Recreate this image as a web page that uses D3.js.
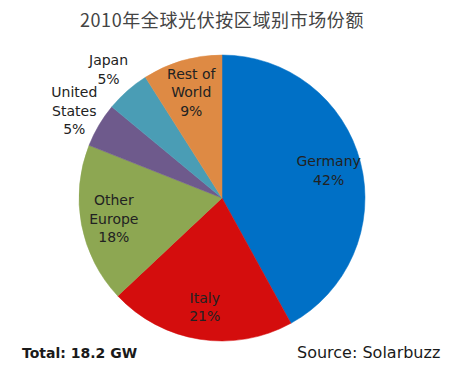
<!DOCTYPE html>
<html>
<head>
<meta charset="utf-8">
<script src="https://cdn.jsdelivr.net/npm/d3@7"></script>
<style>
  body { margin: 0; background: #fff; }
  text { font-family: "DejaVu Sans", Verdana, sans-serif; }
</style>
</head>
<body>
<svg id="chart"></svg>
<script>
// market share by region, 2010
var regions = ["Germany", "Italy", "Other Europe", "United States", "Japan", "Rest of World"];
var shares = [42, 21, 18, 5, 5, 9];
var labelLines = [["Germany"], ["Italy"], ["Other", "Europe"], ["United", "States"], ["Japan"], ["Rest of", "World"]];
var sliceColors = ["#0070c6", "#d40d0d", "#8da752", "#6e5a8c", "#4a9db5", "#de8a44"];

var width = 450, height = 368;
var cx = 222, cy = 198, radius = 143;

var svg = d3.select("#chart")
  .attr("width", width)
  .attr("height", height);

// title
svg.append("text")
  .attr("x", cx)
  .attr("y", 27)
  .attr("text-anchor", "middle")
  .style("font-family", "'Noto Sans CJK SC', sans-serif")
  .style("font-size", "18px")
  .style("letter-spacing", "0.6px")
  .attr("fill", "#444")
  .text("2010年全球光伏按区域别市场份额");

var color = d3.scaleOrdinal().domain(regions).range(sliceColors);

var pie = d3.pie()
  .sort(null)
  .value(function (d) { return d; });

var arcs = pie(shares);

var arc = d3.arc().innerRadius(0).outerRadius(radius);
var inLabel = d3.arc().innerRadius(radius * 0.77).outerRadius(radius * 0.77);
var outLabel = d3.arc().innerRadius(radius * 1.2).outerRadius(radius * 1.2);

var g = svg.append("g")
  .attr("transform", "translate(" + cx + "," + cy + ")");

g.selectAll(".slice")
  .data(arcs)
  .enter()
  .append("path")
  .attr("class", "slice")
  .attr("d", arc)
  .attr("fill", function (d, i) { return color(regions[i]); })
  .attr("stroke", function (d, i) { return color(regions[i]); })
  .attr("stroke-width", 0.5);

// labels: small slices go outside
var labels = g.selectAll(".lbl")
  .data(arcs)
  .enter()
  .append("text")
  .attr("class", "lbl")
  .attr("text-anchor", "middle")
  .style("font-size", "14px")
  .attr("fill", "#222")
  .attr("transform", function (d) {
    var p = d.data < 6 ? outLabel.centroid(d) : inLabel.centroid(d);
    return "translate(" + p[0] + "," + p[1] + ")";
  });

labels.each(function (d, i) {
  var lines = labelLines[i].concat([shares[i] + "%"]);
  var t = d3.select(this);
  var start = -(lines.length - 1) * 18.5 / 2 + 5;
  lines.forEach(function (line, j) {
    t.append("tspan")
      .attr("x", 0)
      .attr("y", start + j * 18.5)
      .text(line);
  });
});

svg.append("text")
  .attr("x", 22)
  .attr("y", 358)
  .style("font-size", "14px")
  .style("font-weight", "bold")
  .attr("fill", "#1a1a1a")
  .text("Total: 18.2 GW");

svg.append("text")
  .attr("x", 297)
  .attr("y", 358)
  .style("font-size", "16px")
  .attr("fill", "#1a1a1a")
  .text("Source: Solarbuzz");
</script>
</body>
</html>
